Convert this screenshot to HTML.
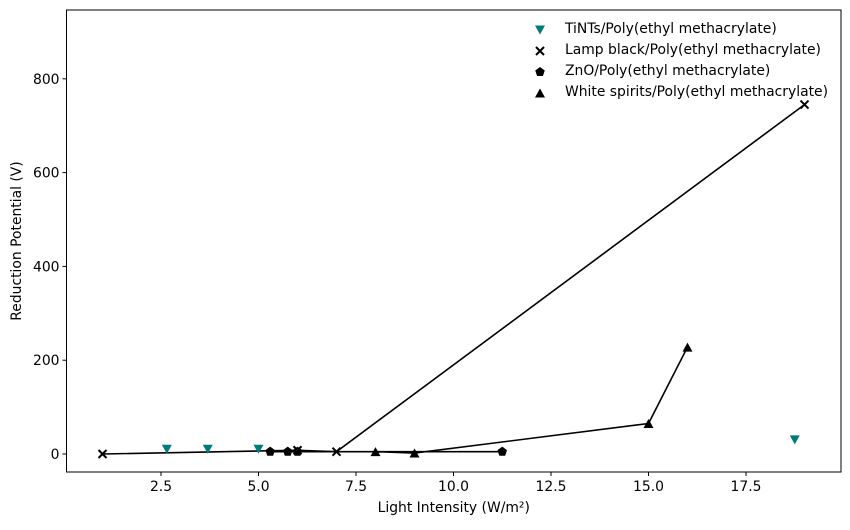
<!DOCTYPE html>
<html><head><meta charset="utf-8"><style>
body{margin:0;background:#fff;}
svg text{font-family:"DejaVu Sans","Liberation Sans",sans-serif;font-size:13.9px;fill:#000;}
</style></head><body>
<svg id="chart" width="850" height="525" xmlns="http://www.w3.org/2000/svg"></svg>
<script>
const xTicks=[2.5,5.0,7.5,10.0,12.5,15.0,17.5];
const xTickLabels=["2.5","5.0","7.5","10.0","12.5","15.0","17.5"];
const yTicks=[0,200,400,600,800];
const tintsX=[2.65,3.7,5.0,18.75];
const tintsY=[10,10,10,30];
const lampX=[1,6,7,19];
const lampY=[0,8,5,745];
const znoX=[5.3,5.75,6.0,11.25];
const znoY=[5,5,5,5];
const whiteX=[8,9,15,16];
const whiteY=[5,2,65,228];
const seriesNames=["TiNTs/Poly(ethyl methacrylate)","Lamp black/Poly(ethyl methacrylate)","ZnO/Poly(ethyl methacrylate)","White spirits/Poly(ethyl methacrylate)"];

const NS="http://www.w3.org/2000/svg";
const svg=document.getElementById('chart');
const L=66.5,R=841,T=10,B=472;
const sx=v=>63.5+v*39.0;
const sy=v=>454-v*0.469;
function mk(tag,attrs,parent){const e=document.createElementNS(NS,tag);for(const k in attrs)e.setAttribute(k,attrs[k]);(parent||svg).appendChild(e);return e;}

const frame=mk('rect',{x:L,y:T,width:R-L,height:B-T,fill:'none',stroke:'#000','stroke-width':1});



xTicks.forEach((t,i)=>{
  const l=mk('line',{x1:sx(t),x2:sx(t),y1:B,y2:B+4,stroke:'#000'});
  
  
  const tx=mk('text',{x:sx(t),y:B+19,'text-anchor':'middle'});tx.textContent=xTickLabels[i];
  
  
});
yTicks.forEach(t=>{
  const l=mk('line',{x1:L-4,x2:L,y1:sy(t),y2:sy(t),stroke:'#000'});
  
  
  const tx=mk('text',{x:L-7,y:sy(t)+5,'text-anchor':'end'});tx.textContent=t;
  
  
});
const xt=mk('text',{x:(L+R)/2,y:512,'text-anchor':'middle'});xt.textContent='Light Intensity (W/m²)';


const yt=mk('text',{x:21,y:(T+B)/2,'text-anchor':'middle',transform:`rotate(-90 21 ${(T+B)/2})`});yt.textContent='Reduction Potential (V)';



function line(xs,ys,name){
  const p=mk('polyline',{points:xs.map((x,i)=>sx(x)+','+sy(ys[i])).join(' '),fill:'none',stroke:'#000','stroke-width':1.6});
  
  
}
function marker(type,x,y,color,name){
  let e;
  if(type==='tri-down')e=mk('polygon',{points:`${x-5},${y-4.5} ${x+5},${y-4.5} ${x},${y+4.5}`,fill:color});
  else if(type==='tri-up')e=mk('polygon',{points:`${x-5},${y+4.5} ${x+5},${y+4.5} ${x},${y-4.5}`,fill:color});
  else if(type==='x')e=mk('path',{d:`M${x-4},${y-4}L${x+4},${y+4}M${x-4},${y+4}L${x+4},${y-4}`,stroke:color,'stroke-width':2,fill:'none'});
  else {const pts=[];for(let k=0;k<5;k++){const a=-Math.PI/2+k*2*Math.PI/5;pts.push((x+5*Math.cos(a))+','+(y+5*Math.sin(a)));}e=mk('polygon',{points:pts.join(' '),fill:color});}
  
  
}
line(lampX,lampY,'lamp-black-line');
line(znoX,znoY,'zno-line');
line(whiteX,whiteY,'white-spirits-line');
tintsX.forEach((x,i)=>marker('tri-down',sx(x),sy(tintsY[i]),'#007b7b','tints-point'));
lampX.forEach((x,i)=>marker('x',sx(x),sy(lampY[i]),'#000','lamp-black-point'));
znoX.forEach((x,i)=>marker('pent',sx(x),sy(znoY[i]),'#000','zno-point'));
whiteX.forEach((x,i)=>marker('tri-up',sx(x),sy(whiteY[i]),'#000','white-spirits-point'));

const types=['tri-down','x','pent','tri-up'];const cols=['#007b7b','#000','#000','#000'];
const rows=[28,49,70,91];
seriesNames.forEach((n,i)=>{
  marker(types[i],540,rows[i]+2,cols[i],'legend-marker');
  const t=mk('text',{x:565,y:rows[i]+5});t.textContent=n;
  
  
});
</script>
</body></html>
